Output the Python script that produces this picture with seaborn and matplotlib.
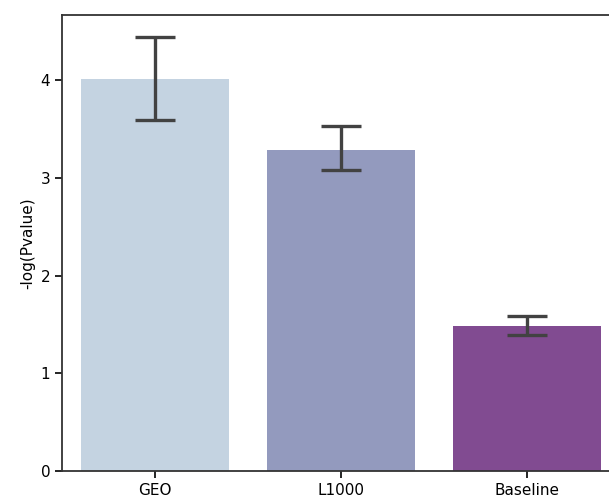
import matplotlib
matplotlib.use("Agg")
import matplotlib.pyplot as plt
import seaborn as sns
import pandas as pd

categories = ["GEO", "L1000", "Baseline"]
values = [4.01, 3.28, 1.48]
err_low = [3.59, 3.08, 1.39]
err_high = [4.44, 3.53, 1.585]

df = pd.DataFrame({"source": categories, "value": values})

fig = plt.figure(figsize=(6.09, 4.99), dpi=100)
ax = fig.add_axes([62/609, 28/499, 558/609, 456/499])

sns.barplot(data=df, x="source", y="value", hue="source", palette="BuPu",
            errorbar=None, legend=False, ax=ax, width=0.8)

yerr = [[v - lo for v, lo in zip(values, err_low)],
        [hi - v for v, hi in zip(values, err_high)]]
ax.errorbar(categories, values, yerr=yerr, fmt="none", ecolor="#424242",
            elinewidth=2.4, capsize=14.5, capthick=2.4, zorder=5)

ax.set_xlim(-0.5, 2.5)
ax.set_ylim(0, 4.665)
ax.set_yticks([0, 1, 2, 3, 4])
ax.set_xlabel("")
ax.set_ylabel("-log(Pvalue)", fontsize=11)
ax.tick_params(labelsize=11, length=5, width=1.2)
for s in ax.spines.values():
    s.set_linewidth(1.3)
    s.set_color("#333333")

fig.savefig("out.png", dpi=100)
